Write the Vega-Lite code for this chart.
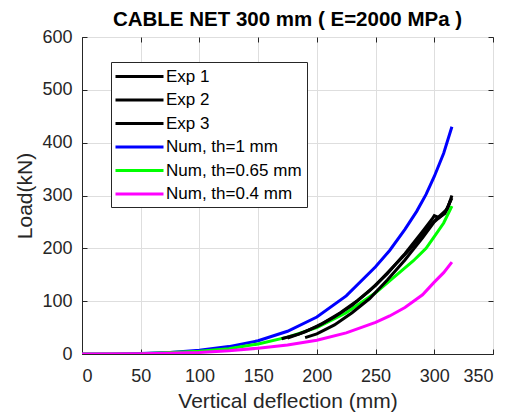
{
  "$schema": "https://vega.github.io/schema/vega-lite/v6.json",
  "width": 411,
  "height": 317,
  "autosize": {"type": "none"},
  "padding": {"left": 82, "top": 37, "right": 19, "bottom": 63},
  "background": "white",
  "title": {"text": "CABLE NET 300 mm ( E=2000 MPa )", "font": "Liberation Sans", "fontSize": 20.5, "fontWeight": "bold", "color": "black", "offset": -2, "anchor": "middle"},
  "config": {
    "view": {"stroke": "#262626", "strokeWidth": 1},
    "axis": {"labelFont": "Liberation Sans", "titleFont": "Liberation Sans", "labelColor": "#262626", "titleColor": "#262626", "gridColor": "#dedede", "gridWidth": 1, "domainColor": "#262626", "tickColor": "#262626", "labelFontSize": 18, "titleFontSize": 21, "titleFontWeight": "normal"}
  },
  "data": {"values": [
    {"s": "Num, th=1 mm", "x": 0, "y": 0},
    {"s": "Num, th=1 mm", "x": 25, "y": 0.2},
    {"s": "Num, th=1 mm", "x": 50, "y": 1},
    {"s": "Num, th=1 mm", "x": 75, "y": 3},
    {"s": "Num, th=1 mm", "x": 100, "y": 7},
    {"s": "Num, th=1 mm", "x": 125, "y": 14},
    {"s": "Num, th=1 mm", "x": 150, "y": 25},
    {"s": "Num, th=1 mm", "x": 175, "y": 43},
    {"s": "Num, th=1 mm", "x": 200, "y": 70},
    {"s": "Num, th=1 mm", "x": 225, "y": 110},
    {"s": "Num, th=1 mm", "x": 250, "y": 165},
    {"s": "Num, th=1 mm", "x": 262, "y": 196},
    {"s": "Num, th=1 mm", "x": 275, "y": 236},
    {"s": "Num, th=1 mm", "x": 285, "y": 270},
    {"s": "Num, th=1 mm", "x": 293, "y": 302},
    {"s": "Num, th=1 mm", "x": 300, "y": 336},
    {"s": "Num, th=1 mm", "x": 308, "y": 380},
    {"s": "Num, th=1 mm", "x": 315, "y": 430},
    {"s": "Num, th=0.65 mm", "x": 0, "y": 0},
    {"s": "Num, th=0.65 mm", "x": 50, "y": 0.7},
    {"s": "Num, th=0.65 mm", "x": 100, "y": 5},
    {"s": "Num, th=0.65 mm", "x": 125, "y": 10},
    {"s": "Num, th=0.65 mm", "x": 150, "y": 19},
    {"s": "Num, th=0.65 mm", "x": 175, "y": 32},
    {"s": "Num, th=0.65 mm", "x": 200, "y": 50},
    {"s": "Num, th=0.65 mm", "x": 225, "y": 78},
    {"s": "Num, th=0.65 mm", "x": 250, "y": 116},
    {"s": "Num, th=0.65 mm", "x": 265, "y": 144},
    {"s": "Num, th=0.65 mm", "x": 282, "y": 176},
    {"s": "Num, th=0.65 mm", "x": 293, "y": 200},
    {"s": "Num, th=0.65 mm", "x": 300, "y": 222},
    {"s": "Num, th=0.65 mm", "x": 308, "y": 248},
    {"s": "Num, th=0.65 mm", "x": 315, "y": 280},
    {"s": "Num, th=0.4 mm", "x": 0, "y": 0},
    {"s": "Num, th=0.4 mm", "x": 50, "y": 0.3},
    {"s": "Num, th=0.4 mm", "x": 100, "y": 3},
    {"s": "Num, th=0.4 mm", "x": 125, "y": 6},
    {"s": "Num, th=0.4 mm", "x": 150, "y": 11},
    {"s": "Num, th=0.4 mm", "x": 175, "y": 17},
    {"s": "Num, th=0.4 mm", "x": 200, "y": 26},
    {"s": "Num, th=0.4 mm", "x": 225, "y": 40},
    {"s": "Num, th=0.4 mm", "x": 250, "y": 60},
    {"s": "Num, th=0.4 mm", "x": 262, "y": 72},
    {"s": "Num, th=0.4 mm", "x": 275, "y": 88},
    {"s": "Num, th=0.4 mm", "x": 290, "y": 112},
    {"s": "Num, th=0.4 mm", "x": 300, "y": 136},
    {"s": "Num, th=0.4 mm", "x": 308, "y": 154},
    {"s": "Num, th=0.4 mm", "x": 315, "y": 174},
    {"s": "Exp 1", "x": 170, "y": 29},
    {"s": "Exp 1", "x": 185, "y": 38},
    {"s": "Exp 1", "x": 200, "y": 52},
    {"s": "Exp 1", "x": 215, "y": 70},
    {"s": "Exp 1", "x": 230, "y": 92},
    {"s": "Exp 1", "x": 245, "y": 120},
    {"s": "Exp 1", "x": 260, "y": 152},
    {"s": "Exp 1", "x": 275, "y": 190},
    {"s": "Exp 1", "x": 290, "y": 232},
    {"s": "Exp 1", "x": 298, "y": 255},
    {"s": "Exp 1", "x": 300, "y": 262},
    {"s": "Exp 1", "x": 304, "y": 258},
    {"s": "Exp 1", "x": 309, "y": 266},
    {"s": "Exp 1", "x": 312, "y": 280},
    {"s": "Exp 1", "x": 315, "y": 300},
    {"s": "Exp 2", "x": 190, "y": 31},
    {"s": "Exp 2", "x": 200, "y": 38},
    {"s": "Exp 2", "x": 215, "y": 55},
    {"s": "Exp 2", "x": 230, "y": 78},
    {"s": "Exp 2", "x": 245, "y": 105},
    {"s": "Exp 2", "x": 260, "y": 140},
    {"s": "Exp 2", "x": 275, "y": 178},
    {"s": "Exp 2", "x": 290, "y": 220},
    {"s": "Exp 2", "x": 300, "y": 250},
    {"s": "Exp 2", "x": 306, "y": 262},
    {"s": "Exp 2", "x": 311, "y": 275},
    {"s": "Exp 2", "x": 314, "y": 292},
    {"s": "Exp 3", "x": 175, "y": 30},
    {"s": "Exp 3", "x": 190, "y": 42},
    {"s": "Exp 3", "x": 205, "y": 58},
    {"s": "Exp 3", "x": 220, "y": 78},
    {"s": "Exp 3", "x": 235, "y": 102},
    {"s": "Exp 3", "x": 250, "y": 130},
    {"s": "Exp 3", "x": 265, "y": 165},
    {"s": "Exp 3", "x": 280, "y": 200},
    {"s": "Exp 3", "x": 295, "y": 240},
    {"s": "Exp 3", "x": 303, "y": 258},
    {"s": "Exp 3", "x": 310, "y": 272},
    {"s": "Exp 3", "x": 315, "y": 295}
  ]},
  "layer": [
    {
      "mark": {"type": "line", "strokeWidth": 3, "clip": true},
      "encoding": {
        "x": {"field": "x", "type": "quantitative", "scale": {"domain": [0, 350], "nice": false}, "axis": {"values": [0, 50, 100, 150, 200, 250, 300, 350], "title": "Vertical deflection (mm)", "tickSize": -5, "labelPadding": 18, "titlePadding": 5}},
        "y": {"field": "y", "type": "quantitative", "scale": {"domain": [0, 600], "nice": false}, "axis": {"values": [0, 100, 200, 300, 400, 500, 600], "title": "Load(kN)", "tickSize": -5, "labelPadding": 15, "titlePadding": 6}},
        "color": {"field": "s", "type": "nominal", "scale": {"domain": ["Exp 1", "Exp 2", "Exp 3", "Num, th=1 mm", "Num, th=0.65 mm", "Num, th=0.4 mm"], "range": ["#000000", "#000000", "#000000", "#0000ff", "#00ff00", "#ff00ff"]},
          "legend": {"title": null, "orient": "none", "legendX": 29, "legendY": 25, "symbolType": "M-3,0H3", "symbolSize": 256, "symbolStrokeWidth": 3, "labelFont": "Liberation Sans", "labelFontSize": 17, "labelColor": "#000000", "labelOffset": 17, "rowPadding": 5.5, "padding": 5, "symbolOffset": 14, "strokeColor": "#262626", "fillColor": "white"}}
      }
    },
    {
      "mark": {"type": "line", "opacity": 0},
      "encoding": {
        "x": {"field": "x", "type": "quantitative", "axis": {"orient": "top", "values": [0, 50, 100, 150, 200, 250, 300, 350], "title": null, "labels": false, "grid": false, "domain": false, "tickSize": -5}},
        "y": {"field": "y", "type": "quantitative", "axis": {"orient": "right", "values": [0, 100, 200, 300, 400, 500, 600], "title": null, "labels": false, "grid": false, "domain": false, "tickSize": -5}},
        "detail": {"field": "s"}
      }
    }
  ],
  "resolve": {"axis": {"x": "independent", "y": "independent"}}
}
